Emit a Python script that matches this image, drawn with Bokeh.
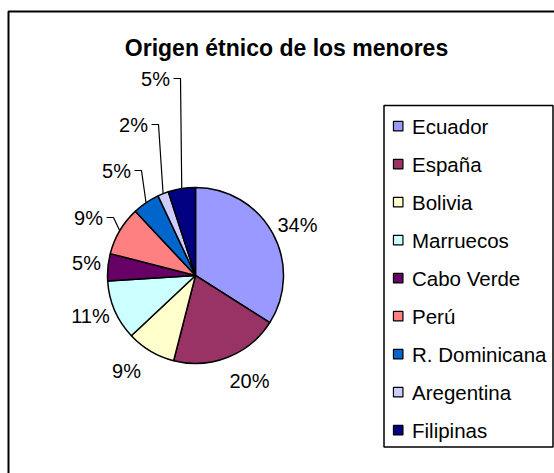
from bokeh.plotting import figure
from bokeh.models import Range1d
from bokeh.embed import file_html
from bokeh.resources import INLINE
from bokeh.core.properties import value
import math

# ---- data ----
categories = ["Ecuador", "España", "Bolivia", "Marruecos", "Cabo Verde", "Perú",
              "R. Dominicana", "Aregentina", "Filipinas"]
percentages = [34, 20, 9, 11, 5, 9, 5, 2, 5]
colors = ["#9999FF", "#993366", "#FFFFCC", "#CCFFFF", "#660066", "#FF8080",
          "#0066CC", "#CCCCFF", "#000080"]
title_text = "Origen étnico de los menores"

# ---- layout (pixel coordinates, y measured from top) ----
W, H = 554, 473
CX, CY, R = 195, 275, 88
# label centres and whether they get a leader line
label_xy = [(297, 224), (249, 380), (126, 370), (90, 315), (86, 262),
            (88, 217), (116, 170), (133, 124), (155, 78)]
leader = [False, False, False, False, False, True, True, True, True]
FONT = "Liberation Sans"

def Y(ypx):
    return H - ypx

p = figure(width=W, height=H, x_range=Range1d(0, W), y_range=Range1d(0, H),
           min_border=0, toolbar_location=None, output_backend="svg",
           x_axis_type=None, y_axis_type=None)
p.grid.visible = False
p.outline_line_color = None
p.background_fill_color = "white"
p.border_fill_color = "white"

# chart border (only top and left visible in window)
p.quad(left=8, right=W + 20, top=Y(11), bottom=Y(H + 20),
       fill_color=None, line_color="black", line_width=2)

# pie
total = sum(percentages)
starts, ends, mids = [], [], []
cum = 0.0
for v in percentages:
    a0 = math.pi / 2 - 2 * math.pi * cum / total
    cum += v
    a1 = math.pi / 2 - 2 * math.pi * cum / total
    starts.append(a0)
    ends.append(a1)
    mids.append((a0 + a1) / 2)

p.wedge(x=CX, y=Y(CY), radius=R, start_angle=starts, end_angle=ends,
        direction="clock", fill_color=colors, line_color="black", line_width=1.5)

# labels
labels = [f"{v}%" for v in percentages]
p.text(x=[xy[0] for xy in label_xy], y=[Y(xy[1]) for xy in label_xy], text=labels,
       text_align="center", text_baseline="middle", text_font=value(FONT),
       text_font_size="20px", text_color="black")

# leader lines
for i, has in enumerate(leader):
    if not has:
        continue
    lx, ly = label_xy[i]
    half_w = 15 if len(labels[i]) == 2 else 21
    right = lx + half_w
    ex = CX + R * math.cos(mids[i])
    ey = Y(CY) + R * math.sin(mids[i])
    p.line(x=[right + 3, right + 10, ex], y=[Y(ly), Y(ly), ey],
           line_color="black", line_width=1.2)

# title
p.text(x=[286], y=[Y(47)], text=[title_text], text_align="center",
       text_baseline="middle", text_font=value(FONT), text_font_size="23px",
       text_font_style="bold", text_color="black")

# legend
p.quad(left=383.5, right=552.5, top=Y(105), bottom=Y(446.5),
       fill_color="white", line_color="black", line_width=1.5)
ly0, step = 125.7, 38.0
ys = [Y(ly0 + i * step) for i in range(len(categories))]
p.rect(x=[397.7] * len(categories), y=ys, width=9.5, height=9.5,
       fill_color=colors, line_color="black", line_width=1.2)
p.text(x=[411.5] * len(categories), y=ys, text=categories, text_align="left",
       text_baseline="middle", text_font=value(FONT), text_font_size="20.5px",
       text_color="black")

open("out.html", "w").write(file_html(p, INLINE))
